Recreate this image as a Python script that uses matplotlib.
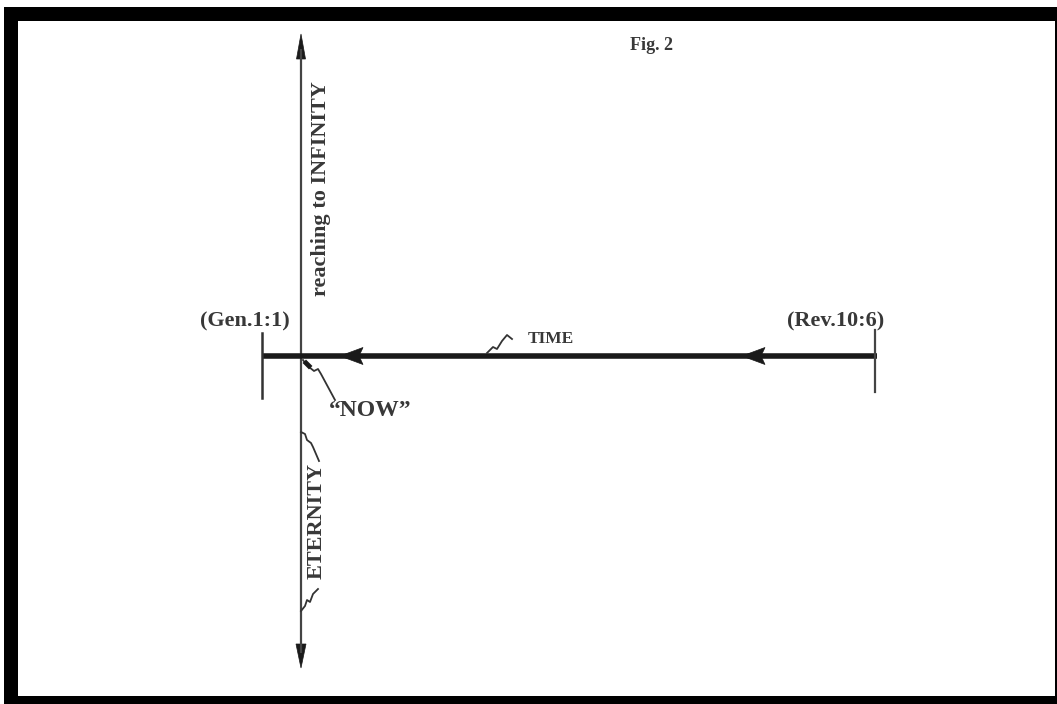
import matplotlib
matplotlib.use("Agg")
import matplotlib.pyplot as plt
from matplotlib.patches import Rectangle, Polygon

# ---- content ----
title_text = "Fig. 2"
start_label = "(Gen.1:1)"
end_label = "(Rev.10:6)"
time_label = "TIME"
now_label = "\u201cNOW\u201d"
up_label = "reaching to INFINITY"
down_label = "ETERNITY"

# ---- geometry (pixel coordinates of the drawing) ----
vx = 301                      # vertical axis x
v_top, v_bot = 34, 668        # vertical extent
hy = 356                      # time line y
h_left, h_right = 262, 877    # time line extent
tick_left = (333, 398)
tick_right = (330, 392)
time_arrow_tips = [340, 742]

time_leader = [(487, 353), (493, 347), (497, 349), (502, 341), (507, 335), (512, 339)]
now_leader = [(303, 360), (306, 364), (309, 367), (314, 371), (318, 369), (321, 374), (335, 400)]
eter_leader_top = [(301, 432), (305, 434), (307, 440), (311, 443), (313, 447), (319, 461)]
eter_leader_bot = [(301, 611), (305, 606), (307, 600), (310, 602), (313, 594), (318, 589)]

W, H = 1057, 704
fig = plt.figure(figsize=(W / 100, H / 100), dpi=100)
ax = fig.add_axes([0, 0, 1, 1])
ax.set_xlim(0, W)
ax.set_ylim(H, 0)
ax.axis("off")

# frame
ax.add_patch(Rectangle((0, 0), W, H, facecolor="black", edgecolor="none"))
ax.add_patch(Rectangle((0, 0), W, 7, facecolor="white", edgecolor="none"))
ax.add_patch(Rectangle((0, 0), 4, H, facecolor="white", edgecolor="none"))
ax.add_patch(Rectangle((18, 21), 1055 - 18, 696 - 21, facecolor="white", edgecolor="none"))

ink = "#1a1a1a"
txt = "#383838"
serif = ["Liberation Serif", "DejaVu Serif"]

# vertical line with arrows
ax.plot([vx, vx], [v_top + 15, v_bot - 15], color="#444444", lw=1.6, solid_capstyle="butt")
ax.add_patch(Polygon([(vx, v_top), (vx - 4.5, v_top + 25), (vx + 4.5, v_top + 25)],
                     closed=True, facecolor=ink, edgecolor=ink, lw=0.5))
ax.add_patch(Polygon([(vx, v_bot), (vx - 5, v_bot - 24), (vx + 5, v_bot - 24)],
                     closed=True, facecolor=ink, edgecolor=ink, lw=0.5))

# time line
ax.plot([h_left, h_right], [hy, hy], color=ink, lw=4.0, solid_capstyle="butt")
ax.plot([h_left, h_left], tick_left, color="#333333", lw=1.8)
ax.plot([h_right - 2, h_right - 2], tick_right, color="#444444", lw=1.6)
for tip in time_arrow_tips:
    ax.add_patch(Polygon([(tip, hy), (tip + 23, hy - 8.5), (tip + 19, hy), (tip + 23, hy + 8.5)],
                         closed=True, facecolor=ink, edgecolor=ink, lw=0.5))

# leader squiggles
for pts in (time_leader, now_leader, eter_leader_top, eter_leader_bot):
    xs, ys = zip(*pts)
    ax.plot(xs, ys, color="#333333", lw=1.3)
ax.plot([306, 309], [363, 366], color=ink, lw=3.5)

# texts
ax.text(652, 46, title_text, family=serif, fontsize=13, fontweight="bold",
        color=txt, ha="center", va="center")
ax.text(245, 321, start_label, family=serif, fontsize=16, fontweight="bold",
        color=txt, ha="center", va="center")
ax.text(836, 321, end_label, family=serif, fontsize=16, fontweight="bold",
        color=txt, ha="center", va="center")
ax.text(551, 339, time_label, family=serif, fontsize=12.5, fontweight="bold",
        color=txt, ha="center", va="center")
ax.text(370, 411, now_label, family=serif, fontsize=17, fontweight="bold",
        color=txt, ha="center", va="center")
ax.text(321, 189, up_label, family=serif, fontsize=16, fontweight="bold",
        color=txt, ha="center", va="center", rotation=90)
ax.text(317, 521, down_label, family=serif, fontsize=16, fontweight="bold",
        color=txt, ha="center", va="center", rotation=90)

fig.savefig("out.png", dpi=100)
